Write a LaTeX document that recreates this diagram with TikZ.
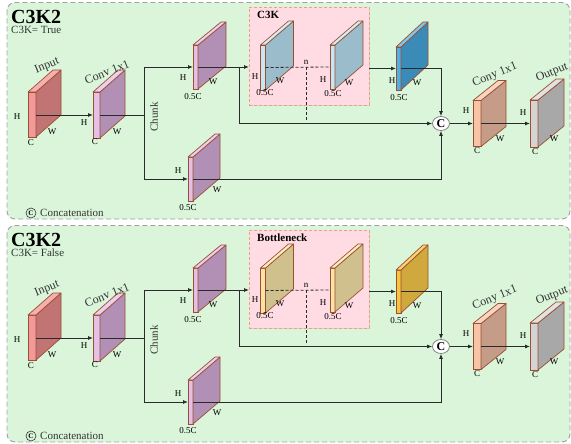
\documentclass[tikz,border=0pt]{standalone}
\usepackage{fontspec}
\setmainfont{Liberation Serif}
\usetikzlibrary{arrows.meta,shapes.geometric,shadows}
\definecolor{panelfill}{HTML}{DAF5DA}
\definecolor{panelline}{HTML}{A0A0A0}
\definecolor{boxfill}{HTML}{FFDCE4}
\definecolor{boxline}{HTML}{F0A080}
\definecolor{slabline}{HTML}{9B4F2F}
\definecolor{linecol}{HTML}{2A2A2A}
\definecolor{textgray}{HTML}{333333}
\definecolor{inF}{HTML}{F29A9A}\definecolor{inS}{HTML}{C27474}\definecolor{inT}{HTML}{F6B0B0}
\definecolor{cvF}{HTML}{E4BFE6}\definecolor{cvS}{HTML}{B28FB5}\definecolor{cvT}{HTML}{EBCFEE}
\definecolor{kF}{HTML}{C6E6F5}\definecolor{kS}{HTML}{9BBCCB}\definecolor{kT}{HTML}{D3ECF7}
\definecolor{blF}{HTML}{4FB0E8}\definecolor{blS}{HTML}{3A8BB8}\definecolor{blT}{HTML}{7FC6EE}
\definecolor{bnF}{HTML}{FBE3A6}\definecolor{bnS}{HTML}{CFC08E}\definecolor{bnT}{HTML}{FBEBC0}
\definecolor{gdF}{HTML}{F7C442}\definecolor{gdS}{HTML}{CFA83E}\definecolor{gdT}{HTML}{F9D470}
\definecolor{coF}{HTML}{F8C4A8}\definecolor{coS}{HTML}{C49C88}\definecolor{coT}{HTML}{F9D4C0}
\definecolor{ouF}{HTML}{D4D4D4}\definecolor{ouS}{HTML}{A8A8A8}\definecolor{ouT}{HTML}{E2E2E2}
\tikzset{
  slabface/.style={rectangle, draw=slabline, line width=0.7pt, inner sep=0pt, outer sep=0pt},
  slabedge/.style={draw=slabline, line width=0.7pt, line join=round},
  conn/.style={draw=linecol, line width=0.8pt},
  arr/.style={conn, -{Latex[length=5pt,width=4pt]}},
  dconn/.style={conn, dash pattern=on 3pt off 2pt},
  lbl/.style={font=\fontsize{9}{10}\selectfont, inner sep=0pt},
  ttl/.style={font=\fontsize{12}{13}\selectfont, inner sep=0pt, rotate=22, text=textgray},
  panel/.style={draw=panelline, fill=panelfill, line width=0.9pt, dash pattern=on 5pt off 3pt, rounded corners=8pt},
  pinkbox/.style={rectangle, draw=boxline, fill=boxfill, line width=0.8pt, dash pattern=on 3pt off 2pt, inner sep=0pt, outer sep=0pt,
    drop shadow={opacity=0.2, shadow xshift=1.2pt, shadow yshift=-1.2pt}},
  concat/.style={ellipse, draw=gray, fill=white, line width=0.8pt, minimum width=17pt, minimum height=14pt, inner sep=0pt, font=\bfseries\fontsize{12}{12}\selectfont},
}
% name, (x,y) center of front face, w, h, dx, dy, front, side, top
\newcommand\slab[9]{%
  \node[slabface, fill=#7, minimum width=#3, minimum height=#4] (#1) at #2 {};
  \filldraw[slabedge, fill=#8] (#1.north east) -- ++(#5,#6) -- ++(0,#4) -- (#1.south east) -- cycle;
  \filldraw[slabedge, fill=#9] (#1.north west) -- ++(#5,#6) -- ++(#3,0) -- (#1.north east) -- cycle;
}
% shift, flag text, box title, inner F S T, out F S T
\newcommand\drawpanel[9]{%
\begin{scope}[shift={(0,#1)}]
  \draw[panel] (7,2.5) rectangle (570,219);
  \node[font=\bfseries\fontsize{20}{22}\selectfont, anchor=west, inner sep=0pt] (title) at (11,16.5) {C3K2};
  \node[font=\fontsize{11}{12}\selectfont, anchor=west, inner sep=0pt, text=textgray] (flag) at (11,30) {#2};
  \node[pinkbox, minimum width=120pt, minimum height=98pt] (box) at (309,56) {};
  \node[font=\bfseries\fontsize{11}{12}\selectfont, anchor=west, inner sep=0pt] (boxt) at (257,14.5) {#3};
  % slabs
  \slab{in}{(32,114.5)}{8}{45}{25}{-22}{inF}{inS}{inT}
  \slab{cv}{(96.5,115)}{7}{46}{25}{-22}{cvF}{cvS}{cvT}
  \slab{up}{(195.5,67)}{5}{44}{28}{-23}{cvF}{cvS}{cvT}
  \slab{lo}{(190.5,179)}{5}{44}{27}{-23}{cvF}{cvS}{cvT}
  \slab{ka}{(263,67.5)}{5}{45}{28}{-24}{#4}{#5}{#6}
  \slab{kb}{(332.5,67)}{5}{44}{28}{-24}{#4}{#5}{#6}
  \slab{bl}{(398.5,68.5)}{5}{43}{27}{-25}{#7}{#8}{#9}
  \slab{co}{(477,123.5)}{8}{46}{25}{-20}{coF}{coS}{coT}
  \slab{ou}{(534,123.5)}{8}{47}{26}{-21}{ouF}{ouS}{ouT}
  \node[concat] (cc) at (441,123.5) {C};
  % connectors
  \coordinate (split) at (144,115);
  \coordinate (j1) at (239,67);
  \coordinate (nn) at (306,67);
  \coordinate (nend) at (306,121);
  \draw[arr] (in.east |- cv.west) -- (cv.west);
  \draw[conn] (cv.east) -- (split);
  \draw[conn] (split |- up.west) -- (split |- lo.west);
  \draw[arr] (split |- up.west) -- (up.west);
  \draw[arr] (split |- lo.west) -- (lo.west);
  \draw[conn] (up.east) -- (j1);
  \draw[arr] (j1) -- (j1 -| box.west);
  \draw[arr] (j1) |- (cc.west);
  \draw[dconn] (ka.east) -- (kb.west);
  \draw[dconn] (nn) -- (nend);
  \draw[arr] (box.east |- bl.west) -- (bl.west);
  \draw[arr] (bl.east) -| (cc.north);
  \draw[arr] (lo.east) -| (cc.south);
  \draw[arr] (cc.east) -- (co.west);
  \draw[arr] (co.east) -- (ou.west);
  % labels
  \node[lbl] (nlab) at (306,62) {n};
  \node[lbl] (inH) at (17,117) {H};  \node[lbl] (inW) at (52,132) {W};  \node[lbl] (inC) at (31,143) {C};
  \node[lbl] (cvH) at (84,123) {H};  \node[lbl] (cvW) at (117,132) {W}; \node[lbl] (cvC) at (95,142) {C};
  \node[lbl] (upH) at (183,78) {H};  \node[lbl] (upW) at (213,82) {W};  \node[lbl] (upC) at (193,97) {0.5C};
  \node[lbl] (loH) at (178,171) {H}; \node[lbl] (loW) at (217,190) {W}; \node[lbl] (loC) at (188,208) {0.5C};
  \node[lbl] (kaH) at (255,77) {H};  \node[lbl] (kaW) at (280,81) {W};  \node[lbl] (kaC) at (265,93) {0.5C};
  \node[lbl] (kbH) at (323,80) {H};  \node[lbl] (kbW) at (349,83) {W};  \node[lbl] (kbC) at (333,94) {0.5C};
  \node[lbl] (blH) at (392,81) {H};  \node[lbl] (blW) at (417,83) {W};  \node[lbl] (blC) at (399,98) {0.5C};
  \node[lbl] (coH) at (466,111) {H}; \node[lbl] (coW) at (500,139) {W}; \node[lbl] (coC) at (477,151) {C};
  \node[lbl] (ouH) at (523,113) {H}; \node[lbl] (ouW) at (554,139) {W}; \node[lbl] (ouC) at (535,152) {C};
  \node[ttl] (inT) at (47,66) {Input};
  \node[ttl] (cvT) at (107,72) {Conv 1x1};
  \node[ttl] (coT) at (495,75) {Cony 1x1};
  \node[ttl] (ouT) at (552,73) {Output};
  \node[font=\fontsize{11}{12}\selectfont, rotate=90, inner sep=0pt, text=textgray] (chunk) at (154,117) {Chunk};
  % legend
  \node[circle, draw=textgray, line width=0.6pt, minimum size=10pt, inner sep=0pt, font=\bfseries\fontsize{7}{7}\selectfont] (lgc) at (31,213) {C};
  \node[font=\fontsize{11}{12}\selectfont, anchor=west, inner sep=0pt, text=textgray] (lgt) at (40,213) {Concatenation};
\end{scope}}
\begin{document}
\begin{tikzpicture}[x=1pt,y=-1pt]
  \useasboundingbox (0,0) rectangle (571,444);
  \fill[white] (0,0) rectangle (571,444);
  \drawpanel{0}{C3K= True}{C3K}{kF}{kS}{kT}{blF}{blS}{blT}
  \drawpanel{223}{C3K= False}{Bottleneck}{bnF}{bnS}{bnT}{gdF}{gdS}{gdT}
\end{tikzpicture}
\end{document}
